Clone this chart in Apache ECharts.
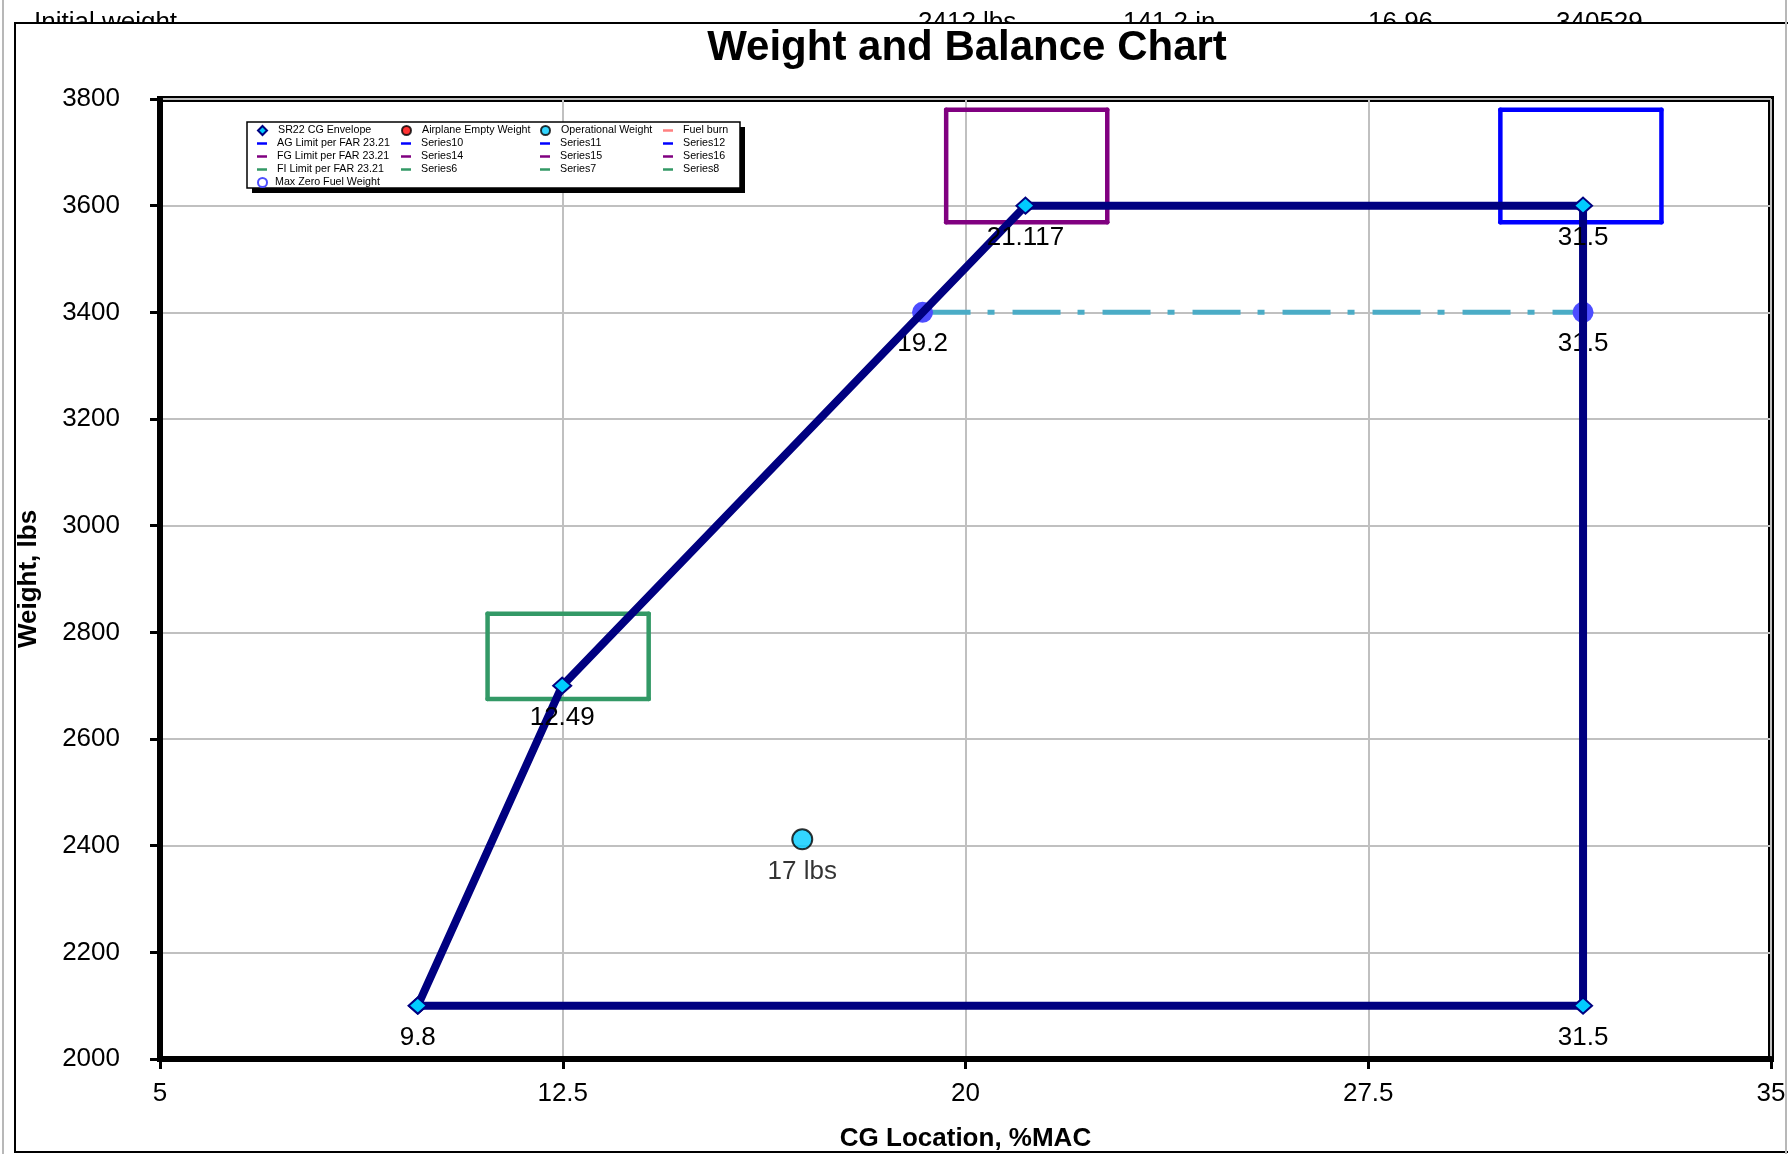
<!DOCTYPE html>
<html>
<head>
<meta charset="utf-8">
<script src="https://cdn.jsdelivr.net/npm/echarts@6/dist/echarts.min.js"></script>
<style>
html,body{margin:0;padding:0;background:#fff;}
#chart{width:1788px;height:1154px;}
</style>
</head>
<body>
<div id="chart"></div>
<script>
// ---- data ----
const envelopeX = [9.8, 12.49, 21.117, 31.5, 31.5, 9.8];
const envelopeY = [2100, 2700, 3600, 3600, 2100, 2100];
const opWeightX = [16.96];
const opWeightY = [2412];
const opWeightLabels = ['17 lbs'];
const mzfwX = [19.2, 31.5];
const mzfwY = [3400, 3400];
// limit boxes: [xMin, xMax, yMin, yMax]
const agBox = [29.96, 32.96, 3569, 3780];
const fgBox = [19.64, 22.64, 3569, 3780];
const fiBox = [11.1, 14.1, 2675, 2835];
const agNames = ['AG Limit per FAR 23.21', 'Series10', 'Series11', 'Series12'];
const fgNames = ['FG Limit per FAR 23.21', 'Series14', 'Series15', 'Series16'];
const fiNames = ['FI Limit per FAR 23.21', 'Series6', 'Series7', 'Series8'];
const headerTexts = ['Initial weight', '2412 lbs', '141.2 in', '16.96', '340529'];
const xTicks = [5, 12.5, 20, 27.5, 35];
const yTicks = [2000, 2200, 2400, 2600, 2800, 3000, 3200, 3400, 3600, 3800];

const NAVY = '#000080', CYAN = '#00ccff', TEAL = '#4bacc6', MZBLUE = '#4d4dff';
const BLUE = '#0000ff', PURPLE = '#800080', GREEN = '#339966';
const FONT = 'Liberation Sans';

function boxSides(b) {
  const [x0, x1, y0, y1] = b;
  return [
    [[x0, y1], [x1, y1]], // top
    [[x1, y1], [x1, y0]], // right
    [[x1, y0], [x0, y0]], // bottom
    [[x0, y0], [x0, y1]]  // left
  ];
}

const series = [];
series.push({
  name: 'SR22 CG Envelope', type: 'line', z: 5,
  data: envelopeX.map((x, i) => ({
    value: [x, envelopeY[i]],
    label: { show: i !== envelopeX.length - 1 }
  })),
  lineStyle: { color: NAVY, width: 8 },
  symbol: 'diamond', symbolSize: [18, 16],
  itemStyle: { color: CYAN, borderColor: NAVY, borderWidth: 2 },
  label: { position: 'bottom', distance: 10, color: '#000', fontFamily: FONT, fontSize: 26,
    formatter: p => String(p.value[0]) },
  emphasis: { disabled: true }
});
series.push({ name: 'Airplane Empty Weight', type: 'scatter', data: [],
  itemStyle: { color: '#ff0000', borderColor: '#000', borderWidth: 1 } });
series.push({
  name: 'Operational Weight', type: 'scatter', z: 6,
  data: opWeightX.map((x, i) => [x, opWeightY[i]]),
  symbol: 'circle', symbolSize: 20,
  itemStyle: { color: CYAN, borderColor: '#000', borderWidth: 2 },
  label: { show: true, position: 'bottom', distance: 9, color: '#000', fontFamily: FONT, fontSize: 26,
    formatter: p => opWeightLabels[p.dataIndex] },
  emphasis: { disabled: true }
});
series.push({ name: 'Fuel burn', type: 'line', data: [], lineStyle: { color: '#ff8080' }, itemStyle: { color: '#ff8080' } });

function addBox(names, box, color) {
  boxSides(box).forEach((seg, i) => {
    series.push({
      name: names[i], type: 'line', z: 3, data: seg, showSymbol: false, symbol: 'none',
      lineStyle: { color: color, width: 4.5, cap: 'round' }, itemStyle: { color: color },
      emphasis: { disabled: true }
    });
  });
}
addBox(agNames, agBox, BLUE);
addBox(fgNames, fgBox, PURPLE);
addBox(fiNames, fiBox, GREEN);

series.push({
  name: 'Max Zero Fuel Weight', type: 'line', z: 4,
  data: mzfwX.map((x, i) => [x, mzfwY[i]]),
  lineStyle: { color: TEAL, width: 5, type: [48, 17, 7, 18] },
  symbol: 'circle', symbolSize: 21,
  itemStyle: { color: MZBLUE, borderWidth: 0 },
  label: { show: true, position: 'bottom', distance: 8, color: '#000', fontFamily: FONT, fontSize: 26,
    formatter: p => String(p.value[0]) },
  emphasis: { disabled: true }
});

// ---- legend layout (one legend per cell) ----
const colX = [257, 401, 540, 663];
const rowY = [129, 142, 155, 168, 181];
const legendItems = [
  ['SR22 CG Envelope', 0, 0, 'diamond', CYAN, NAVY],
  ['Airplane Empty Weight', 1, 0, 'circle', '#ff0000', '#000'],
  ['Operational Weight', 2, 0, 'circle', CYAN, '#000'],
  ['Fuel burn', 3, 0, 'rect', '#ff8080', null],
  [agNames[0], 0, 1, 'rect', BLUE, null], [agNames[1], 1, 1, 'rect', BLUE, null],
  [agNames[2], 2, 1, 'rect', BLUE, null], [agNames[3], 3, 1, 'rect', BLUE, null],
  [fgNames[0], 0, 2, 'rect', PURPLE, null], [fgNames[1], 1, 2, 'rect', PURPLE, null],
  [fgNames[2], 2, 2, 'rect', PURPLE, null], [fgNames[3], 3, 2, 'rect', PURPLE, null],
  [fiNames[0], 0, 3, 'rect', GREEN, null], [fiNames[1], 1, 3, 'rect', GREEN, null],
  [fiNames[2], 2, 3, 'rect', GREEN, null], [fiNames[3], 3, 3, 'rect', GREEN, null],
  ['Max Zero Fuel Weight', 0, 4, 'circle', '#fff', MZBLUE]
];
const legends = legendItems.map(([name, c, r, icon, color, border]) => {
  const isLine = icon === 'rect';
  const w = isLine ? 10 : 9, h = isLine ? 2.5 : 9;
  let pad = isLine ? 5 : 6;
  if (c === 0 && r === 4) pad = 3;
  return {
    show: true, data: [{ name, icon, itemStyle: { color, borderColor: border || color, borderWidth: border ? 2 : 0 } }],
    left: colX[c], top: rowY[r] - 4, itemWidth: w, itemHeight: h, padding: 0,
    selectedMode: false, z: 10,
    textStyle: { fontFamily: FONT, fontSize: 10.7, color: '#000', padding: [0, 0, 0, pad] }
  };
});

const chart = echarts.init(document.getElementById('chart'), null, { renderer: 'canvas' });
chart.setOption({
  animation: false,
  backgroundColor: '#fff',
  grid: { left: 160, right: 17, top: 99, bottom: 95, outerBoundsMode: 'none', containLabel: false,
    show: true, borderColor: '#000', borderWidth: 6, backgroundColor: 'transparent' },
  legend: legends,
  xAxis: {
    type: 'value', min: xTicks[0], max: xTicks[xTicks.length - 1], interval: 7.5,
    name: 'CG Location, %MAC', nameLocation: 'middle', nameGap: 67,
    nameTextStyle: { fontFamily: FONT, fontWeight: 'bold', fontSize: 26, color: '#000' },
    axisLine: { show: true, lineStyle: { color: '#000', width: 6 } },
    axisTick: { show: true, length: 10, lineStyle: { color: '#000', width: 3 } },
    axisLabel: { fontFamily: FONT, fontSize: 26, color: '#000', margin: 22, formatter: v => String(v) },
    splitLine: { show: true, lineStyle: { color: '#c0c0c0', width: 2 } }
  },
  yAxis: {
    type: 'value', min: yTicks[0], max: yTicks[yTicks.length - 1], interval: 200,
    name: 'Weight, lbs', nameLocation: 'middle', nameGap: 118, nameRotate: 90,
    nameTextStyle: { fontFamily: FONT, fontWeight: 'bold', fontSize: 26, color: '#000' },
    axisLine: { show: true, lineStyle: { color: '#000', width: 6 } },
    axisTick: { show: true, length: 10, lineStyle: { color: '#000', width: 3 } },
    axisLabel: { fontFamily: FONT, fontSize: 26, color: '#000', margin: 40, formatter: v => String(v) },
    splitLine: { show: true, lineStyle: { color: '#c0c0c0', width: 2 } }
  },
  graphic: [
    { type: 'text', x: 34, y: 10, z: 1, style: { text: headerTexts[0], font: '26px ' + FONT, fill: '#000' } },
    { type: 'text', x: 918, y: 10, z: 1, style: { text: headerTexts[1], font: '26px ' + FONT, fill: '#000' } },
    { type: 'text', x: 1123, y: 10, z: 1, style: { text: headerTexts[2], font: '26px ' + FONT, fill: '#000' } },
    { type: 'text', x: 1368, y: 10, z: 1, style: { text: headerTexts[3], font: '26px ' + FONT, fill: '#000' } },
    { type: 'text', x: 1556, y: 10, z: 1, style: { text: headerTexts[4], font: '26px ' + FONT, fill: '#000' } },
    { type: 'rect', z: 2, shape: { x: 0, y: 23, width: 1788, height: 16 }, style: { fill: '#fff' } },
    { type: 'rect', z: 3, shape: { x: 15, y: 23, width: 1800, height: 1129 }, style: { fill: 'none', stroke: '#000', lineWidth: 2 } },
    { type: 'rect', z: 3, shape: { x: 2, y: 0, width: 2, height: 1154 }, style: { fill: '#b8b8b8' } },
    { type: 'rect', z: 3, shape: { x: 1785, y: 0, width: 2, height: 1154 }, style: { fill: '#b8b8b8' } },
    { type: 'text', x: 967, y: 27, z: 4, style: { text: 'Weight and Balance Chart', font: 'bold 42px ' + FONT, fill: '#000', textAlign: 'center', textVerticalAlign: 'top' } },
    { type: 'rect', z: 3, shape: { x: 252, y: 127, width: 493, height: 66 }, style: { fill: '#000' } },
    { type: 'rect', z: 4, shape: { x: 247, y: 122, width: 493, height: 66 }, style: { fill: '#fff', stroke: '#000', lineWidth: 1.5 } }
  ],
  series: series
});
</script>
</body>
</html>
